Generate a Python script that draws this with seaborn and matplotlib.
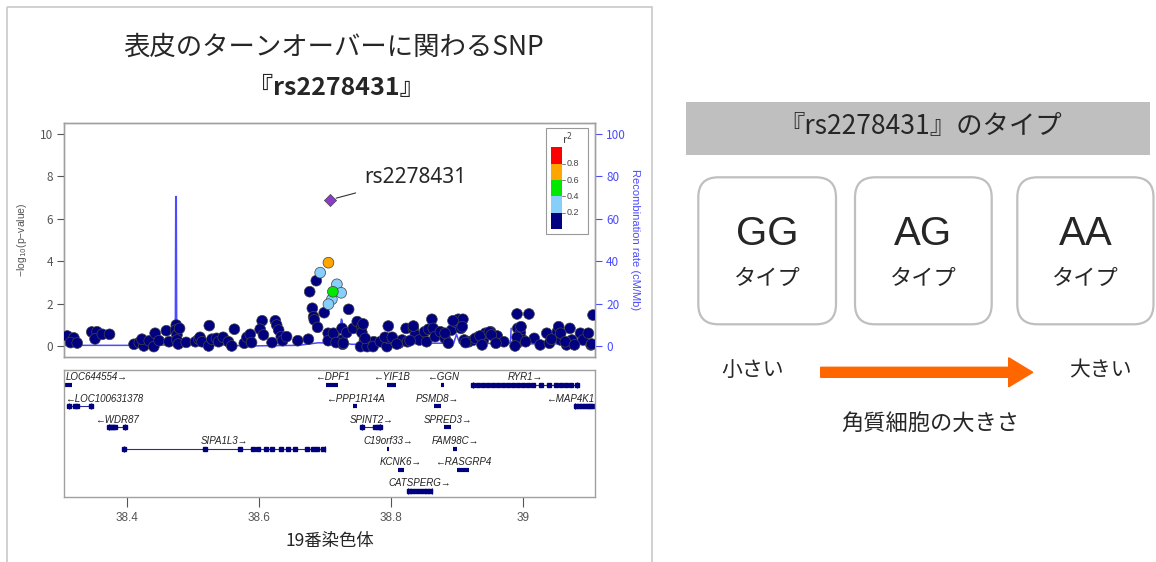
import matplotlib
matplotlib.use("Agg")
import matplotlib.pyplot as plt
import pandas as pd
import seaborn as sns
from matplotlib.patches import Rectangle, FancyBboxPatch, FancyArrow

# ---- SNP association data (position in Mb, -log10 p) ----
snp_pos = [
    38.310, 38.320, 38.315, 38.325, 38.347, 38.355, 38.352, 38.363, 38.374,
    38.411, 38.419, 38.426, 38.423, 38.434, 38.443, 38.441, 38.449, 38.460, 38.464,
    38.475, 38.474, 38.476, 38.476, 38.478, 38.480, 38.490, 38.504, 38.509,
    38.511, 38.514, 38.525, 38.524, 38.529, 38.536, 38.539, 38.546, 38.554, 38.559,
    38.563, 38.578, 38.582, 38.587, 38.589, 38.605, 38.602, 38.607, 38.620, 38.625,
    38.627, 38.630, 38.634, 38.636, 38.642, 38.659, 38.675, 38.677, 38.687, 38.681,
    38.683, 38.684, 38.689, 38.699, 38.705, 38.705, 38.713,
    38.726, 38.726, 38.727, 38.736, 38.733, 38.743, 38.749, 38.756, 38.756, 38.760,
    38.754, 38.764, 38.774, 38.773, 38.784, 38.794, 38.796, 38.796, 38.807, 38.812,
    38.817, 38.823, 38.825, 38.834, 38.837, 38.843, 38.851, 38.854, 38.857, 38.862,
    38.864, 38.867, 38.875, 38.882, 38.892, 38.899, 38.902, 38.909, 38.906, 38.911,
    38.918, 38.925, 38.933, 38.940, 38.943, 38.951, 38.961, 38.971, 38.991, 38.992,
    38.996, 39.000, 38.991, 39.009, 39.017, 39.026, 39.036, 39.040, 39.052, 39.054,
    39.057, 39.066, 39.071, 39.074, 39.087, 39.091, 39.099, 39.103, 39.106,
    38.717, 38.728, 38.758, 38.761, 38.791, 38.802, 38.809, 38.829, 38.834, 38.882,
    38.887, 38.894, 38.908, 38.913,
    38.928, 38.935, 38.938, 38.949, 38.952, 38.959, 38.997, 38.991, 39.004, 38.988,
    39.043, 39.057, 39.064, 39.078, 39.104,
]
snp_logp = [
    0.47, 0.38, 0.16, 0.14, 0.66, 0.67, 0.33, 0.55, 0.55,
    0.08, 0.16, 0.00, 0.32, 0.24, 0.60, -0.03, 0.25, 0.72, 0.20,
    0.99, 0.75, 0.52, 0.28, 0.09, 0.83, 0.17, 0.20, 0.32,
    0.41, 0.20, 0.96, 0.00, 0.32, 0.36, 0.20, 0.41, 0.20, 0.00,
    0.79, 0.13, 0.41, 0.55, 0.16, 1.19, 0.79, 0.52, 0.16, 1.19,
    0.99, 0.75, 0.44, 0.25, 0.44, 0.25, 0.32, 2.56, 3.08, 1.78,
    1.38, 1.23, 0.88, 1.57, 0.60, 0.25, 0.60,
    0.83, 0.28, 0.08, 1.73, 0.63, 0.83, 1.15, 0.91, 0.63, 0.28,
    -0.03, -0.03, 0.20, -0.03, 0.20, -0.03, 0.94, 0.36, 0.20, 0.13,
    0.28, 0.83, 0.20, 0.80, 0.52, 0.28, 0.67, 0.20, 0.79, 1.26,
    0.83, 0.44, 0.67, 0.36, 0.75, 1.10, 1.26, 1.26, 0.83, 0.28,
    0.20, 0.28, 0.44, 0.28, 0.60, 0.67, 0.47, 0.20, 1.51, 0.83,
    0.63, 0.28, 0.13, 1.51, 0.36, 0.05, 0.60, 0.13, 0.67, 0.91,
    0.28, 0.05, 0.83, 0.28, 0.60, 0.28, 0.60, 0.05, 1.46,
    0.16, 0.13, 1.04, 0.36, 0.41, 0.41, 0.09, 0.25, 0.94, 0.60,
    0.13, 1.19, 0.91, 0.16,
    0.36, 0.47, 0.05, 0.65, 0.52, 0.13, 0.91, 0.41, 0.20, 0.00,
    0.32, 0.60, 0.20, 0.05, 0.09,
]

# SNPs in LD with the lead SNP
ld_pos = [38.6929, 38.7182, 38.7247, 38.7106, 38.7054, 38.7121, 38.7054]
ld_logp = [3.46, 2.91, 2.51, 2.20, 1.97, 2.56, 3.93]
ld_r2 = [0.3, 0.3, 0.3, 0.3, 0.3, 0.5, 0.7]

lead_name = "rs2278431"
lead_pos = 38.707
lead_logp = 6.89

# recombination rate (cM/Mb)
recomb_pos = [38.305, 38.400, 38.4735, 38.4742, 38.4750, 38.4757, 38.550, 38.580,
              38.660, 38.690, 38.720, 38.7250, 38.7262, 38.728, 38.740, 38.800,
              38.850, 38.895, 38.8993, 38.904, 38.970, 38.981, 38.982, 38.997,
              38.998, 39.109]
recomb_rate = [0.3, 0.3, 0.5, 70.5, 70.5, 0.8, 0.5, 0.0,
               0.3, 1.5, 1.3, 12.7, 12.0, 1.5, 0.8, 0.8,
               1.3, 1.3, 5.5, 1.2, 1.2, 1.3, 8.3, 8.3,
               1.0, 1.0]

r2_bins = ["0-0.2", "0.2-0.4", "0.4-0.6", "0.6-0.8", "0.8-1"]
r2_colors = ["#000080", "#87CEFA", "#00E800", "#FFA500", "#FF0000"]

# ---- genes ----
gene_names = ["LOC644554", "LOC100631378", "WDR87", "SIPA1L3", "DPF1", "PPP1R14A",
              "YIF1B", "GGN", "RYR1", "PSMD8", "MAP4K1", "SPINT2", "SPRED3",
              "C19orf33", "FAM98C", "KCNK6", "RASGRP4", "CATSPERG"]
gene_start = [38.3065, 38.3126, 38.3732, 38.3959, 38.7020, 38.7429,
              38.7944, 38.8762, 38.9247, 38.8656, 39.0792, 38.7565, 38.8808,
              38.7944, 38.8944, 38.8111, 38.9005, 38.8262]
gene_end = [38.3170, 38.3459, 38.3974, 38.7005, 38.7202, 38.7490,
            38.8080, 38.8808, 39.0823, 38.8762, 39.1110, 38.7838, 38.8914,
            38.7974, 38.9005, 38.8202, 38.9186, 38.8626]
gene_row = [1, 2, 3, 4, 1, 2, 1, 1, 1, 2, 2, 3, 3, 4, 4, 5, 5, 6]
gene_strand = [1, -1, -1, 1, -1, -1, -1, -1, 1, 1, -1, 1, 1, 1, 1, 1, -1, 1]
gene_exons = {
    "SIPA1L3": [38.396, 38.5186, 38.5717, 38.5918, 38.5985, 38.6106, 38.6206,
                38.6333, 38.6449, 38.655, 38.6736, 38.6827, 38.6888, 38.6979],
    "RYR1": [38.9247, 38.9323, 38.9399, 38.9474, 38.955, 38.9626, 38.9702,
             38.9777, 38.9853, 38.9929, 39.0005, 39.008, 39.0156, 39.0277,
             39.0398, 39.0505, 39.058, 39.0656, 39.0732, 39.0823],
    "MAP4K1": [39.080, 39.085, 39.090, 39.094, 39.098, 39.102, 39.106],
    "LOC100631378": [38.313, 38.3217, 38.3251, 38.3459],
    "SPINT2": [38.756, 38.7762, 38.7797, 38.7838],
    "WDR87": [38.373, 38.376, 38.379, 38.382, 38.397],
    "CATSPERG": [38.8267, 38.8318, 38.8383, 38.8444, 38.8494, 38.8545, 38.8595],
}

x_ticks = [38.4, 38.6, 38.8, 39.0]
x_tick_labels = ["38.4", "38.6", "38.8", "39"]

genotypes = ["GG", "AG", "AA"]

# ---- figure ----
sns.set_style("white")
plt.rcParams["font.family"] = ["Noto Sans CJK JP", "DejaVu Sans"]

W, H = 1156, 562
fig = plt.figure(figsize=(W / 100, H / 100), dpi=100)


def px_axes(x0, y0, x1, y1):
    return fig.add_axes([x0 / W, 1 - y1 / H, (x1 - x0) / W, (y1 - y0) / H])


bg = fig.add_axes([0, 0, 1, 1], zorder=0)
bg.set_xlim(0, W)
bg.set_ylim(H, 0)
bg.axis("off")

latin = ["Liberation Sans", "DejaVu Sans"]
grey = "#555555"
blue = "#4B4BFF"
spine_c = "#A0A0A0"

# left panel frame and title
bg.add_patch(Rectangle((6.5, 6.5), 645.5, 600, fill=False, edgecolor="#C8C8C8", lw=1.2))
bg.text(334, 47, "表皮のターンオーバーに関わるSNP", fontsize=19, ha="center", va="center")
bg.text(336, 88, "『rs2278431』", fontsize=18, fontweight="bold", ha="center", va="center")

# ---- association plot ----
ax = px_axes(64, 123, 595, 357)
ax2 = ax.twinx()
ax.set_zorder(ax2.get_zorder() + 1)
ax.patch.set_visible(False)

sns.lineplot(x=recomb_pos, y=recomb_rate, ax=ax2, color=blue, lw=1.1,
             estimator=None, sort=False)
ax2.set_ylim(-5.2, 105.2)
ax2.set_yticks(range(0, 101, 20))
ax2.tick_params(axis="y", colors=blue, labelsize=8.5, length=5, pad=3)
ax2.set_ylabel("Recombination rate (cM/Mb)", color=blue, rotation=270,
               fontsize=8, labelpad=10, family=latin)

df = pd.DataFrame({
    "pos": snp_pos + ld_pos,
    "logp": snp_logp + ld_logp,
    "r2": [0.1] * len(snp_pos) + ld_r2,
})
df["bin"] = pd.cut(df["r2"], [0, 0.2, 0.4, 0.6, 0.8, 1.0], labels=r2_bins)
sns.scatterplot(data=df, x="pos", y="logp", hue="bin", hue_order=r2_bins,
                palette=dict(zip(r2_bins, r2_colors)), s=60, edgecolor="#444444",
                linewidth=0.5, legend=False, ax=ax, zorder=3)
sns.scatterplot(x=[lead_pos], y=[lead_logp], marker="D", s=38, color="#8B3DC9",
                edgecolor="#444444", linewidth=0.5, ax=ax, zorder=4)

ax.set_xlim(38.305, 39.109)
ax.set_ylim(-0.52, 10.52)
ax.set_yticks(range(0, 11, 2))
ax.set_xticks([])
ax.set_xlabel("")
ax.tick_params(axis="y", colors=grey, labelsize=8.5, length=5, pad=3, left=True)
ax.set_ylabel("−log$_{10}$(p−value)", color=grey, fontsize=7.5, family=latin, labelpad=8)
for a in (ax, ax2):
    for sp in a.spines.values():
        sp.set_color(spine_c)
        sp.set_linewidth(1.0)

ax.annotate(lead_name, xy=(lead_pos, lead_logp), xytext=(25, 16.5),
            textcoords="offset points", ha="left", va="center", fontsize=15,
            family=["Noto Sans", "DejaVu Sans"],
            arrowprops=dict(arrowstyle="-", color="#333333", lw=0.8,
                            shrinkA=6, shrinkB=5))

# r2 legend
ax.add_patch(Rectangle((0.907, 0.524), 0.080, 0.453, transform=ax.transAxes,
                       facecolor="white", edgecolor="#999999", lw=0.8, zorder=5))
for i, c in enumerate(r2_colors):
    ax.add_patch(Rectangle((0.918, 0.547 + i * 0.0698), 0.019, 0.0698,
                           transform=ax.transAxes, facecolor=c, edgecolor="none", zorder=6))
for k, lab in enumerate(["0.2", "0.4", "0.6", "0.8"], start=1):
    yk = 0.547 + k * 0.0698
    ax.plot([0.937, 0.944], [yk, yk], transform=ax.transAxes, color="#666666",
            lw=0.6, zorder=6, clip_on=False)
    ax.text(0.947, yk, lab, transform=ax.transAxes, fontsize=6.5, color="#444444",
            va="center", ha="left", family=latin, zorder=6)
ax.text(0.947, 0.935, "r$^2$", transform=ax.transAxes, fontsize=8, color="#444444",
        ha="center", va="center", zorder=6)

# ---- gene track ----
gx = px_axes(64, 370, 595, 497)
gx.set_xlim(38.305, 39.109)
gx.set_ylim(6.28, 0.29)
gene_line = "#2A2AA0"
exon_c = "#00007F"
renderer = fig.canvas.get_renderer()
for name, s, e, r, st in zip(gene_names, gene_start, gene_end, gene_row, gene_strand):
    if name in gene_exons:
        gx.plot([s, e], [r, r], color=gene_line, lw=0.8)
        ex = gene_exons[name]
        gx.plot(ex, [r] * len(ex), ls="none", marker="s", ms=2.2, color=exon_c)
        gx.plot([s, e], [r, r], ls="none", marker="|", ms=4, mew=0.8, color=exon_c)
    else:
        gx.plot([s, e], [r, r], color=exon_c, lw=3.0, solid_capstyle="butt")
    label = f"{name}→" if st > 0 else f"←{name}"
    cx = (s + e) / 2
    t = gx.text(cx, r - 0.36, label, fontsize=7, style="italic", family=latin,
                ha="center", va="center", color="#222222")
    bb = t.get_window_extent(renderer).transformed(gx.transData.inverted())
    if bb.x0 < 38.307:
        t.set_x(38.307)
        t.set_ha("left")
    elif bb.x1 > 39.107:
        t.set_x(39.107)
        t.set_ha("right")

gx.set_xticks(x_ticks)
gx.set_xticklabels(x_tick_labels)
gx.set_yticks([])
gx.tick_params(axis="x", colors=grey, labelsize=8.5, length=7, pad=4, bottom=True)
for lab in gx.get_xticklabels():
    lab.set_family(latin)
for sp in gx.spines.values():
    sp.set_color(spine_c)
    sp.set_linewidth(1.0)
bg.text(329.5, 541, "19番染色体", fontsize=12.5, ha="center", va="center")

# ---- right panel: genotype boxes ----
bg.add_patch(Rectangle((686, 101.7), 464, 53.3, facecolor="#BFBFBF", edgecolor="none"))
bg.text(920, 127, "『rs2278431』のタイプ", fontsize=19, ha="center", va="center")

box_left = [698.3, 855, 1017.3]
box_right = [836, 991.7, 1153.5]
for gt, x0, x1 in zip(genotypes, box_left, box_right):
    bg.add_patch(FancyBboxPatch((x0, 177.3), x1 - x0, 147,
                                boxstyle="round,pad=0,rounding_size=20",
                                facecolor="white", edgecolor="#BFBFBF", lw=1.6))
    cx = (x0 + x1) / 2
    bg.text(cx, 234, gt, fontsize=29, ha="center", va="center", family=latin)
    bg.text(cx, 278, "タイプ", fontsize=16, ha="center", va="center")

bg.text(753, 370, "小さい", fontsize=15, ha="center", va="center")
bg.text(1100, 370, "大きい", fontsize=15, ha="center", va="center")
bg.add_patch(FancyArrow(820.7, 372.3, 212, 0, width=10, head_width=29, head_length=24,
                        length_includes_head=True, color="#FF6600"))
bg.text(930, 423, "角質細胞の大きさ", fontsize=16, ha="center", va="center")

fig.savefig("out.png", dpi=100)
